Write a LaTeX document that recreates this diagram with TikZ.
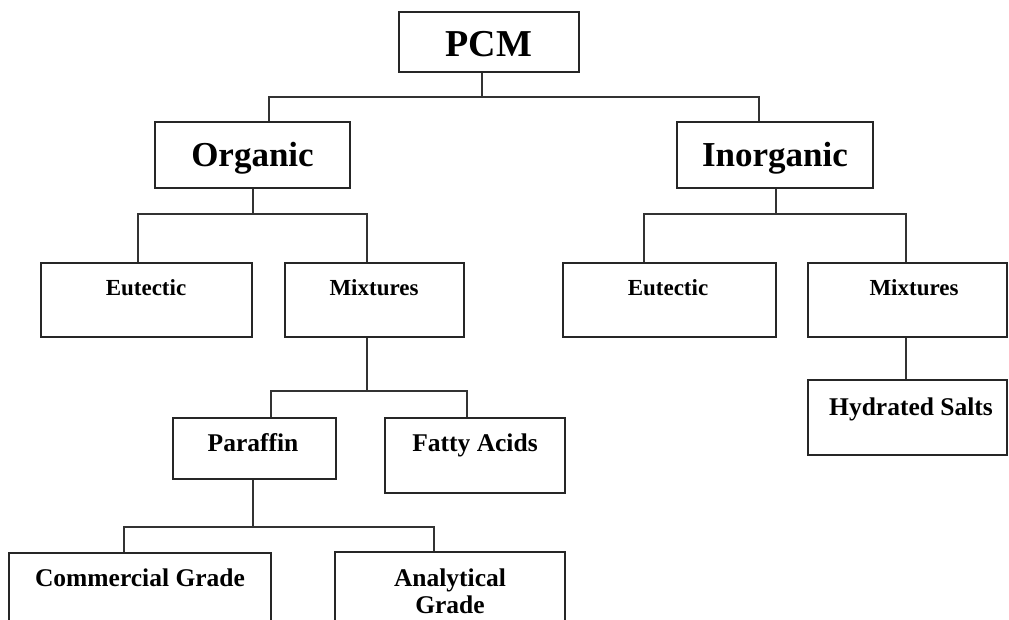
\documentclass[tikz,border=0pt]{standalone}
\usepackage{fontspec}
\setmainfont{Liberation Serif}
\begin{document}
\begin{tikzpicture}[x=1pt,y=-1pt,
  box/.style={draw=black!85,line width=1.1pt,rectangle,inner sep=0pt,fill=white},
  lbl/.style={inner sep=0pt,anchor=base,font=\bfseries},
  big/.style={lbl,font=\fontsize{38}{40}\selectfont\bfseries},
  mid/.style={lbl,font=\fontsize{35}{37}\selectfont\bfseries},
  sml/.style={lbl,font=\fontsize{23}{25}\selectfont\bfseries},
  std/.style={lbl,font=\fontsize{25.5}{27}\selectfont\bfseries,align=center},
  wire/.style={draw=black!80,line width=1.1pt}]
\clip (0,0) rectangle (1009,620);
\fill[white] (0,0) rectangle (1009,620);
% boxes
\node[box,minimum width=195pt,minimum height=66pt] (org) at (252.5,155) {};
\node[box,minimum width=180pt,minimum height=60pt] (pcm) at (489,42) {};
\node[box,minimum width=196pt,minimum height=66pt] (inorg) at (775,155) {};
\node[box,minimum width=211pt,minimum height=74pt] (eutL) at (146.5,300) {};
\node[box,minimum width=179pt,minimum height=74pt] (mixL) at (374.5,300) {};
\node[box,minimum width=213pt,minimum height=74pt] (eutR) at (669.5,300) {};
\node[box,minimum width=199pt,minimum height=74pt] (mixR) at (907.5,300) {};
\node[box,minimum width=199pt,minimum height=75pt] (hyd) at (907.5,417.5) {};
\node[box,minimum width=163pt,minimum height=61pt] (par) at (254.5,448.5) {};
\node[box,minimum width=180pt,minimum height=75pt] (fat) at (475,455.5) {};
\node[box,minimum width=262pt,minimum height=87pt] (com) at (140,596.5) {};
\node[box,minimum width=230pt,minimum height=88pt] (ana) at (450,596) {};
% texts
\node[big] (pcmt) at (489,57) {PCM};
\node[mid] (orgt) at (252.5,167) {Organic};
\node[mid] (inorgt) at (775,167) {Inorganic};
\node[sml] (eutLt) at (146,296) {Eutectic};
\node[sml] (mixLt) at (374,296) {Mixtures};
\node[sml] (eutRt) at (668,296) {Eutectic};
\node[sml] (mixRt) at (914,296) {Mixtures};
\node[std] (hydt) at (911,415) {Hydrated Salts};
\node[std] (part) at (253,451) {Paraffin};
\node[std] (fatt) at (475,451) {Fatty Acids};
\node[std] (comt) at (140,586) {Commercial Grade};
\node[std] (anat) at (450,613) {Analytical\\Grade};
% connectors
\coordinate (b1) at (482,97);
\draw[wire] ([xshift=-7pt]pcm.south) -- (b1);
\draw[wire] ([xshift=16.5pt]org.north) |- (b1) -| ([xshift=-16pt]inorg.north);
\coordinate (b2) at (253,214);
\draw[wire] ([xshift=0.5pt]org.south) -- (b2);
\draw[wire] ([xshift=-8.5pt]eutL.north) |- (b2) -| ([xshift=-7.5pt]mixL.north);
\coordinate (b3) at (776,214);
\draw[wire] ([xshift=1pt]inorg.south) -- (b3);
\draw[wire] ([xshift=-25.5pt]eutR.north) |- (b3) -| ([xshift=-1.5pt]mixR.north);
\draw[wire] ([xshift=-1.5pt]mixR.south) -- ([xshift=-1.5pt]hyd.north);
\coordinate (b4) at (367,391);
\draw[wire] ([xshift=-7.5pt]mixL.south) -- (b4);
\draw[wire] ([xshift=16.5pt]par.north) |- (b4) -| ([xshift=-8pt]fat.north);
\coordinate (b5) at (253,527);
\draw[wire] ([xshift=-1.5pt]par.south) -- (b5);
\draw[wire] ([xshift=-16pt]com.north) |- (b5) -| ([xshift=-16pt]ana.north);
\end{tikzpicture}
\end{document}
